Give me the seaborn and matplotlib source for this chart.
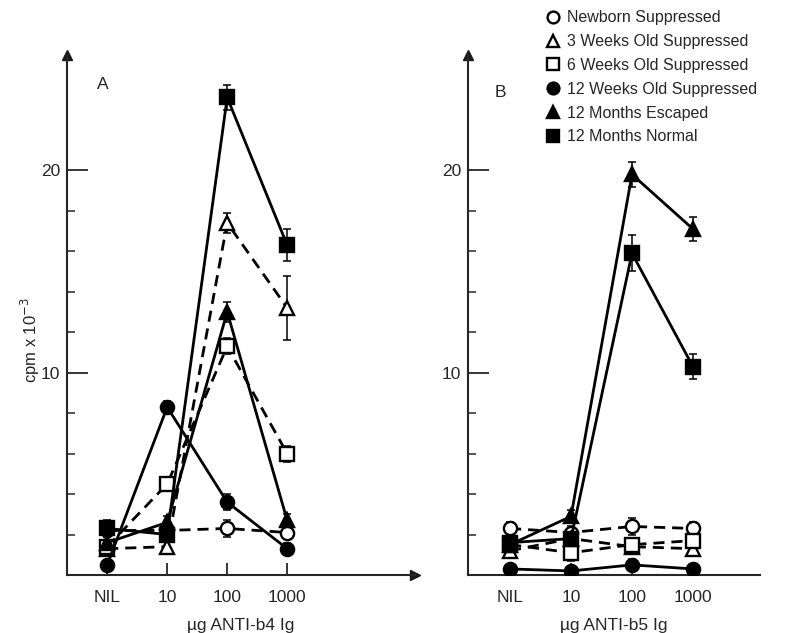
# Proliferation response (cpm) to anti-b4 / anti-b5 Ig, two panels.

import matplotlib
matplotlib.use("Agg")

import matplotlib.pyplot as plt
from matplotlib.lines import Line2D
import numpy as np
import pandas as pd
import seaborn as sns

sns.set_theme(style="ticks")
plt.rcParams["font.family"] = ["Liberation Sans", "DejaVu Sans"]

doses = ["NIL", "10", "100", "1000"]
groups = ["Newborn Suppressed", "3 Weeks Old Suppressed", "6 Weeks Old Suppressed",
          "12 Weeks Old Suppressed", "12 Months Escaped", "12 Months Normal"]

# panel A (anti-b4), cpm x 10^-3
newbornA = [2.2, 2.2, 2.3, 2.1]
weeks3A = [1.3, 1.4, 17.4, 13.2]
weeks6A = [1.4, 4.5, 11.3, 6.0]
weeks12A = [0.5, 8.3, 3.6, 1.3]
escapedA = [1.6, 2.6, 13.0, 2.7]
normalA = [2.3, 2.0, 23.6, 16.3]

newbornAErr = [0.3, 0.3, 0.4, 0.3]
weeks3AErr = [0.3, 0.3, 0.5, 1.6]
weeks6AErr = [0.3, 0.3, 0.4, 0.4]
weeks12AErr = [0.2, 0.3, 0.4, 0.3]
escapedAErr = [0.3, 0.3, 0.5, 0.3]
normalAErr = [0.4, 0.3, 0.6, 0.8]

# panel B (anti-b5)
newbornB = [2.3, 2.1, 2.4, 2.3]
weeks3B = [1.2, 1.8, 1.4, 1.3]
weeks6B = [1.5, 1.1, 1.5, 1.7]
weeks12B = [0.3, 0.2, 0.5, 0.3]
escapedB = [1.5, 2.9, 19.8, 17.1]
normalB = [1.6, 1.8, 15.9, 10.3]

newbornBErr = [0.3, 0.3, 0.4, 0.3]
weeks3BErr = [0.3, 0.3, 0.3, 0.3]
weeks6BErr = [0.3, 0.4, 0.3, 0.3]
weeks12BErr = [0.2, 0.2, 0.3, 0.2]
escapedBErr = [0.3, 0.3, 0.6, 0.6]
normalBErr = [0.3, 0.3, 0.9, 0.6]

# marker, filled?, dashed?
styles = {
    "Newborn Suppressed": ("o", False, True),
    "3 Weeks Old Suppressed": ("^", False, True),
    "6 Weeks Old Suppressed": ("s", False, True),
    "12 Weeks Old Suppressed": ("o", True, False),
    "12 Months Escaped": ("^", True, False),
    "12 Months Normal": ("s", True, False),
}


def makeFrame(values, errors):
    rows = []
    for name, vals, errs in zip(groups, values, errors):
        for i, (v, e) in enumerate(zip(vals, errs)):
            rows.append({"group": name, "pos": i, "cpm": v, "err": e})
    return pd.DataFrame(rows)


dfA = makeFrame([newbornA, weeks3A, weeks6A, weeks12A, escapedA, normalA],
                [newbornAErr, weeks3AErr, weeks6AErr, weeks12AErr, escapedAErr, normalAErr])
dfB = makeFrame([newbornB, weeks3B, weeks6B, weeks12B, escapedB, normalB],
                [newbornBErr, weeks3BErr, weeks6BErr, weeks12BErr, escapedBErr, normalBErr])


def drawPanel(ax, df, letter, letterPos, xlabel, xlim, xArrow):
    for name in groups:
        marker, filled, dashed = styles[name]
        sub = df[df["group"] == name]
        ax.errorbar(sub["pos"], sub["cpm"], yerr=sub["err"], fmt="none",
                    ecolor="black", elinewidth=1.1, capsize=3, capthick=1.1, zorder=2)
        sns.lineplot(data=sub, x="pos", y="cpm", ax=ax, color="black",
                     linewidth=2, linestyle=(0, (4, 2.5)) if dashed else "-",
                     marker=marker, markersize=9.5 if marker != "^" else 10,
                     markerfacecolor="black" if filled else "white",
                     markeredgecolor="black", markeredgewidth=1.7,
                     errorbar=None, legend=False, zorder=3)

    ax.set_xlim(*xlim)
    ax.set_ylim(0, 25.7)
    ax.set_xticks(range(len(doses)))
    ax.set_xticklabels(doses)
    ax.set_yticks([10, 20])
    ax.set_yticks(np.arange(2, 20, 2), minor=True)
    ax.tick_params(axis="y", which="major", direction="in", length=15, width=1.3,
                   labelsize=12.5, pad=5)
    ax.tick_params(axis="y", which="minor", direction="in", length=6, width=1.1)
    ax.tick_params(axis="x", direction="in", length=9, width=1.3, labelsize=12.5, pad=11)
    ax.set_xlabel(xlabel, fontsize=12.5, labelpad=9)
    ax.set_ylabel("")
    sns.despine(ax=ax)
    for side in ["left", "bottom"]:
        ax.spines[side].set_linewidth(1.5)
    ax.plot(0, 1, "^k", markersize=7, transform=ax.transAxes, clip_on=False)
    if xArrow:
        ax.plot(1, 0, ">k", markersize=7, transform=ax.transAxes, clip_on=False)
    ax.text(letterPos[0], letterPos[1], letter, transform=ax.transAxes, fontsize=12.5)


fig = plt.figure(figsize=(7.91, 6.33), dpi=100)
axA = fig.add_axes([67 / 791, 58 / 633, 348 / 791, 520 / 633])
axB = fig.add_axes([468 / 791, 58 / 633, 292 / 791, 520 / 633])

drawPanel(axA, dfA, "A", (0.085, 0.935), "µg ANTI-b4 Ig", (-0.67, 5.13), True)
drawPanel(axB, dfB, "B", (0.09, 0.92), "µg ANTI-b5 Ig", (-0.69, 4.1), False)

fig.text(30 / 791, 1 - 340 / 633, "cpm x 10$^{-3}$", rotation=90,
         ha="center", va="center", fontsize=12)

handles = []
for name in groups:
    marker, filled, dashed = styles[name]
    handles.append(Line2D([], [], linestyle="none", marker=marker, markersize=8.5,
                          color="black", markerfacecolor="black" if filled else "white",
                          markeredgewidth=1.7))
fig.legend(handles, groups, loc="upper left", bbox_to_anchor=(540 / 791, 1 - 4 / 633),
           frameon=False, fontsize=11.5, handlelength=0.8, handletextpad=0.5,
           labelspacing=0.55, borderaxespad=0)

fig.savefig("out.png", dpi=100)
